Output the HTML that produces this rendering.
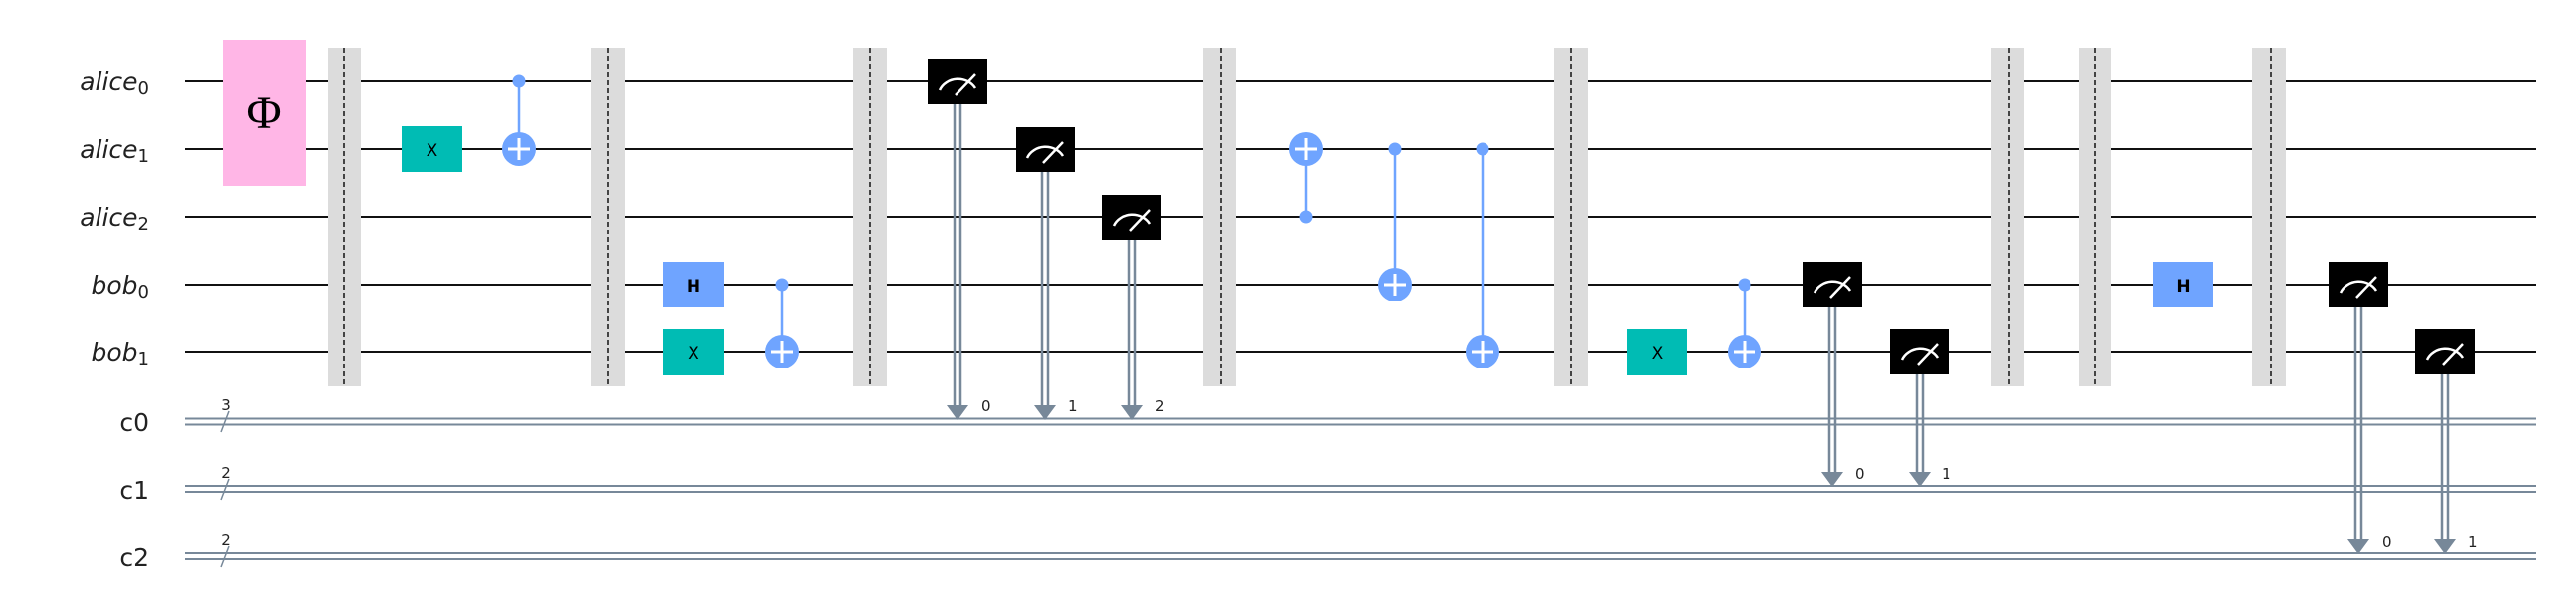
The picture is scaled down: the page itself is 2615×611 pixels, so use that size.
<!DOCTYPE html>
<html><head><meta charset="utf-8"><style>
html,body{margin:0;padding:0;background:#fff;}
svg{display:block;}
.lbl{font-family:"DejaVu Sans","Liberation Sans",sans-serif;font-size:25px;fill:#222;}
.sm{font-family:"DejaVu Sans","Liberation Sans",sans-serif;font-size:15px;fill:#222;}
</style></head><body>
<svg width="2615" height="611" viewBox="0 0 2615 611" xmlns="http://www.w3.org/2000/svg">
<defs>
<g id="meas">
<rect x="-30" y="-23" width="60" height="46" fill="#000"/>
<path d="M-18 8 A20 18 0 0 1 18 6" fill="none" stroke="#fff" stroke-width="2.5"/>
<line x1="-2" y1="13" x2="18" y2="-8" stroke="#fff" stroke-width="2.5"/>
</g>
<g id="targ">
<circle r="17" fill="#6fa4ff"/>
<line x1="-11" y1="0" x2="11" y2="0" stroke="#fff" stroke-width="3"/>
<line x1="0" y1="-11" x2="0" y2="11" stroke="#fff" stroke-width="3"/>
</g>
</defs>
<!-- labels -->
<g class="lbl" text-anchor="end" font-style="italic">
<text x="151" y="91">alice<tspan font-size="18" dy="4" font-style="normal">0</tspan></text>
<text x="151" y="160">alice<tspan font-size="18" dy="4" font-style="normal">1</tspan></text>
<text x="151" y="229">alice<tspan font-size="18" dy="4" font-style="normal">2</tspan></text>
<text x="151" y="298">bob<tspan font-size="18" dy="4" font-style="normal">0</tspan></text>
<text x="151" y="366">bob<tspan font-size="18" dy="4" font-style="normal">1</tspan></text>
</g>
<g class="lbl" text-anchor="end">
<text x="151" y="437">c0</text>
<text x="151" y="506">c1</text>
<text x="151" y="574">c2</text>
</g>
<!-- quantum wires -->
<g stroke="#111" stroke-width="2">
<line x1="188" y1="82" x2="2574" y2="82"/>
<line x1="188" y1="151" x2="2574" y2="151"/>
<line x1="188" y1="220" x2="2574" y2="220"/>
<line x1="188" y1="289" x2="2574" y2="289"/>
<line x1="188" y1="357" x2="2574" y2="357"/>
</g>
<!-- classical wires -->
<g stroke="#778899" stroke-width="2">
<line x1="188" y1="424.5" x2="2574" y2="424.5"/><line x1="188" y1="430.5" x2="2574" y2="430.5"/>
<line x1="188" y1="493" x2="2574" y2="493"/><line x1="188" y1="499" x2="2574" y2="499"/>
<line x1="188" y1="561" x2="2574" y2="561"/><line x1="188" y1="567" x2="2574" y2="567"/>
<line x1="224" y1="438" x2="232" y2="417" stroke-width="1.5"/>
<line x1="224" y1="507" x2="232" y2="486" stroke-width="1.5"/>
<line x1="224" y1="575" x2="232" y2="554" stroke-width="1.5"/>
</g>
<g class="sm" text-anchor="middle" font-size="13">
<text x="229" y="416">3</text><text x="229" y="485">2</text><text x="229" y="553">2</text>
</g>
<!-- barriers -->
<g fill="#dcdcdc">
<rect x="333" y="49" width="33" height="343"/>
<rect x="600" y="49" width="34" height="343"/>
<rect x="866" y="49" width="34" height="343"/>
<rect x="1221" y="49" width="34" height="343"/>
<rect x="1578" y="49" width="34" height="343"/>
<rect x="2021" y="49" width="34" height="343"/>
<rect x="2110" y="49" width="33" height="343"/>
<rect x="2286" y="49" width="35" height="343"/>
</g>
<g stroke="#111" stroke-width="1.5" stroke-dasharray="5,3">
<line x1="349" y1="49" x2="349" y2="392"/>
<line x1="617" y1="49" x2="617" y2="392"/>
<line x1="883" y1="49" x2="883" y2="392"/>
<line x1="1239" y1="49" x2="1239" y2="392"/>
<line x1="1595" y1="49" x2="1595" y2="392"/>
<line x1="2039" y1="49" x2="2039" y2="392"/>
<line x1="2127" y1="49" x2="2127" y2="392"/>
<line x1="2305" y1="49" x2="2305" y2="392"/>
</g>
<!-- Phi -->
<rect x="226" y="41" width="85" height="148" fill="#ffb6e6"/>
<text x="268" y="130" text-anchor="middle" font-family="'Liberation Serif',serif" font-size="48" fill="#000">Φ</text>
<!-- X / H gates -->
<g font-family="'DejaVu Sans','Liberation Sans',sans-serif" font-size="17" text-anchor="middle">
<rect x="408" y="128" width="61" height="47" fill="#00bcb4"/><text x="438.5" y="158">X</text>
<rect x="673" y="266" width="62" height="46" fill="#6fa4ff"/><text x="704" y="296" font-weight="bold">H</text>
<rect x="673" y="334" width="62" height="47" fill="#00bcb4"/><text x="704" y="364">X</text>
<rect x="1652" y="334" width="61" height="47" fill="#00bcb4"/><text x="1682.5" y="364">X</text>
<rect x="2186" y="266" width="61" height="46" fill="#6fa4ff"/><text x="2216.5" y="296" font-weight="bold">H</text>
</g>
<!-- CNOTs -->
<g stroke="#6fa4ff" stroke-width="2.5" fill="#6fa4ff">
<line x1="527" y1="82" x2="527" y2="151"/><circle cx="527" cy="82" r="6.5" stroke="none"/>
<line x1="794" y1="289" x2="794" y2="357"/><circle cx="794" cy="289" r="6.5" stroke="none"/>
<line x1="1326" y1="151" x2="1326" y2="220"/><circle cx="1326" cy="220" r="6.5" stroke="none"/>
<line x1="1416" y1="151" x2="1416" y2="289"/><circle cx="1416" cy="151" r="6.5" stroke="none"/>
<line x1="1505" y1="151" x2="1505" y2="357"/><circle cx="1505" cy="151" r="6.5" stroke="none"/>
<line x1="1771" y1="289" x2="1771" y2="357"/><circle cx="1771" cy="289" r="6.5" stroke="none"/>
</g>
<use href="#targ" x="527" y="151"/>
<use href="#targ" x="794" y="357"/>
<use href="#targ" x="1326" y="151"/>
<use href="#targ" x="1416" y="289"/>
<use href="#targ" x="1505" y="357"/>
<use href="#targ" x="1771" y="357"/>
<!-- measurement lines -->
<g stroke="#778899" stroke-width="2.5">
<line x1="969" y1="100" x2="969" y2="414"/><line x1="975" y1="100" x2="975" y2="414"/>
<line x1="1058" y1="170" x2="1058" y2="414"/><line x1="1064" y1="170" x2="1064" y2="414"/>
<line x1="1146" y1="238" x2="1146" y2="414"/><line x1="1152" y1="238" x2="1152" y2="414"/>
<line x1="1857" y1="306" x2="1857" y2="482"/><line x1="1863" y1="306" x2="1863" y2="482"/>
<line x1="1946" y1="375" x2="1946" y2="482"/><line x1="1952" y1="375" x2="1952" y2="482"/>
<line x1="2391" y1="306" x2="2391" y2="550"/><line x1="2397" y1="306" x2="2397" y2="550"/>
<line x1="2479" y1="375" x2="2479" y2="550"/><line x1="2485" y1="375" x2="2485" y2="550"/>
</g>
<g fill="#778899">
<polygon points="961,411 983,411 972,426"/>
<polygon points="1050,411 1072,411 1061,426"/>
<polygon points="1138,411 1160,411 1149,426"/>
<polygon points="1849,479 1871,479 1860,494"/>
<polygon points="1938,479 1960,479 1949,494"/>
<polygon points="2383,547 2405,547 2394,562"/>
<polygon points="2471,547 2493,547 2482,562"/>
</g>
<use href="#meas" x="972" y="83"/>
<use href="#meas" x="1061" y="152"/>
<use href="#meas" x="1149" y="221"/>
<use href="#meas" x="1860" y="289"/>
<use href="#meas" x="1949" y="357"/>
<use href="#meas" x="2394" y="289"/>
<use href="#meas" x="2482" y="357"/>
<g class="sm">
<text x="996" y="417">0</text><text x="1084" y="417">1</text><text x="1173" y="417">2</text>
<text x="1883" y="486">0</text><text x="1971" y="486">1</text>
<text x="2418" y="555">0</text><text x="2505" y="555">1</text>
</g>
</svg>
</body></html>
